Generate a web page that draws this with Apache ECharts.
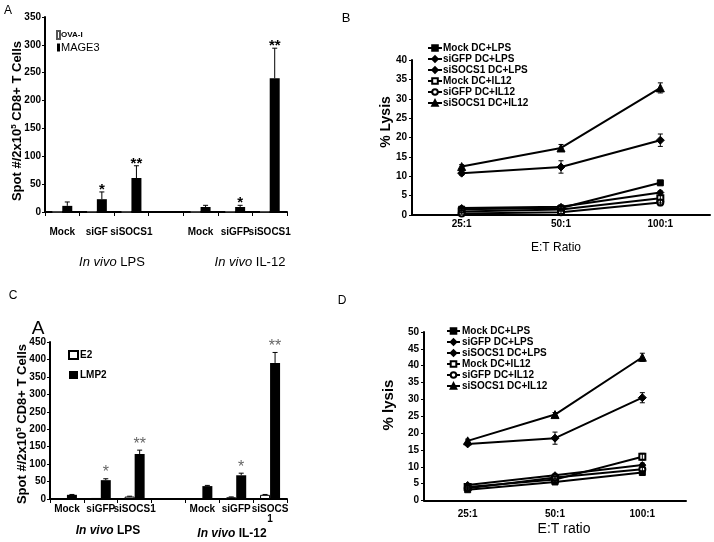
<!DOCTYPE html>
<html><head><meta charset="utf-8">
<script src="https://cdn.jsdelivr.net/npm/echarts@6/dist/echarts.min.js"></script>
<style>html,body{margin:0;padding:0;background:#fff}#c{width:714px;height:542px}</style>
</head><body><div id="c"></div>
<script>
// ---------- Panel A (ELISPOT, OVA-I / MAGE3) ----------
const catsA = ['Mock', 'siGF', 'siSOCS1', '', 'Mock', 'siGFP', 'siSOCS1'];
const ovaA = [0.5, 1, 0.5, null, 0.5, 1, 1];
const mageA = [11, 23, 61, null, 9, 9, 240];
const mageErrA = [7, 13, 22, null, 3, 3, 54];
const sigA = ['', '*', '**', '', '', '*', '**'];

// ---------- Panel B (lysis) ----------
const ratiosB = ['25:1', '50:1', '100:1'];
const namesL = ['Mock DC+LPS', 'siGFP DC+LPS', 'siSOCS1 DC+LPS', 'Mock DC+IL12', 'siGFP DC+IL12', 'siSOCS1 DC+IL12'];
const mockLpsB = [1.5, 1.8, 8.3];
const siGfpLpsB = [1.8, 2.1, 5.8];
const siSocsLpsB = [10.8, 12.4, 19.3];
const mockIl12B = [0.9, 1.4, 4.3];
const siGfpIl12B = [0.4, 0.7, 3.2];
const siSocsIl12B = [12.5, 17.3, 32.8];
const mockLpsErrB = [0.3, 0.3, 0.5];
const siGfpLpsErrB = [0.3, 0.3, 0.4];
const siSocsLpsErrB = [0.5, 1.6, 1.6];
const mockIl12ErrB = [0.3, 0.3, 1.2];
const siGfpIl12ErrB = [0.2, 0.3, 0.8];
const siSocsIl12ErrB = [0.5, 0.9, 1.3];

// ---------- Panel C (ELISPOT, E2 / LMP2) ----------
const catsC = ['Mock', 'siGFP', 'siSOCS1', '', 'Mock', 'siGFP', 'siSOCS\n1'];
const e2C = [0, 3, 7, null, 0, 5, 12];
const e2ErrC = [0, 0, 1, null, 0, 1, 1];
const lmp2C = [12, 54, 129, null, 37, 68, 390];
const lmp2ErrC = [1, 4, 11, null, 2, 6, 30];
const sigC = ['', '*', '**', '', '', '*', '**'];

// ---------- Panel D (lysis) ----------
const ratiosD = ['25:1', '50:1', '100:1'];
const mockLpsD = [3.2, 5.5, 8.3];
const siGfpLpsD = [4.6, 7.5, 10.5];
const siSocsLpsD = [16.8, 18.5, 30.5];
const mockIl12D = [4.0, 6.2, 13.0];
const siGfpIl12D = [3.6, 6.8, 9.3];
const siSocsIl12D = [17.7, 25.5, 42.5];
const mockLpsErrD = [0.3, 0.4, 0.5];
const siGfpLpsErrD = [0.3, 0.4, 0.6];
const siSocsLpsErrD = [0.5, 1.8, 1.5];
const mockIl12ErrD = [0.3, 0.5, 1.0];
const siGfpIl12ErrD = [0.3, 0.4, 0.6];
const siSocsIl12ErrD = [0.5, 0.6, 1.2];

const FF = '"Liberation Sans", Arial, Helvetica, sans-serif';
const chart = echarts.init(document.getElementById('c'), null, {renderer: 'canvas'});

function errSeries(axisIdx, vals, errs, offset, both, sigs, sigStyle, sigGap) {
  const data = vals.map((v, i) => [i, v == null ? 0 : v]);
  return {
    type: 'custom', xAxisIndex: axisIdx, yAxisIndex: axisIdx, z: 6, silent: true,
    encode: {x: 0, y: 1}, clip: false,
    renderItem(params, api) {
      const i = params.dataIndex;
      const v = vals[i], e = errs[i];
      if (v == null) return null;
      const p0 = api.coord([i, v]);
      const pt = api.coord([i, v + e]);
      const pb = api.coord([i, v - e]);
      const x = p0[0] + offset;
      const ch = [];
      if (e > 0) {
        ch.push({type: 'line', shape: {x1: x, y1: both ? pb[1] : p0[1], x2: x, y2: pt[1]}, style: {stroke: '#000', lineWidth: 1}});
        ch.push({type: 'line', shape: {x1: x - 2.5, y1: pt[1], x2: x + 2.5, y2: pt[1]}, style: {stroke: '#000', lineWidth: 1}});
        if (both) ch.push({type: 'line', shape: {x1: x - 2.5, y1: pb[1], x2: x + 2.5, y2: pb[1]}, style: {stroke: '#000', lineWidth: 1}});
      }
      if (sigs && sigs[i]) {
        ch.push({type: 'text', x: x, y: pt[1] - sigGap,
          style: Object.assign({text: sigs[i], align: 'center', verticalAlign: 'middle'}, sigStyle)});
      }
      return {type: 'group', children: ch};
    },
    data
  };
}

function lineSeries(name, axisIdx, data, symbol, size) {
  return {
    name, type: 'line', xAxisIndex: axisIdx, yAxisIndex: axisIdx, data,
    symbol, symbolSize: size, showSymbol: true,
    lineStyle: {color: '#000', width: 2},
    itemStyle: {color: '#000', borderColor: '#000', borderWidth: 1},
    z: 4
  };
}

const catAxisBar = (gi, cats, margin) => ({
  type: 'category', gridIndex: gi, data: cats,
  axisLine: {lineStyle: {color: '#000', width: 2}},
  axisTick: {show: true, interval: 0, length: 4, lineStyle: {color: '#000', width: 1}},
  axisLabel: {interval: 0, margin, color: '#000', fontFamily: FF, fontWeight: 'bold', fontSize: 10, lineHeight: 10}
});
const valAxis = (gi, max, interval, margin) => ({
  type: 'value', gridIndex: gi, min: 0, max, interval,
  splitLine: {show: false},
  axisLine: {show: true, lineStyle: {color: '#000', width: 2}},
  axisTick: {show: true, length: 3, lineStyle: {color: '#000'}},
  axisLabel: {margin, color: '#000', fontFamily: FF, fontWeight: 'bold', fontSize: 10}
});
const catAxisLine = (gi, cats, margin) => ({
  type: 'category', gridIndex: gi, data: cats, boundaryGap: true,
  axisLine: {lineStyle: {color: '#000', width: 2}},
  axisTick: {show: false},
  axisLabel: {margin, color: '#000', fontFamily: FF, fontWeight: 'bold', fontSize: 10}
});

const option = {
  animation: false,
  backgroundColor: '#fff',
  grid: [
    {left: 45, top: 17, width: 242, height: 195, outerBoundsMode: 'none'},
    {left: 412, top: 60, width: 298, height: 155, outerBoundsMode: 'none'},
    {left: 50, top: 342, width: 237, height: 157, outerBoundsMode: 'none'},
    {left: 424, top: 332, width: 262, height: 168.5, outerBoundsMode: 'none'}
  ],
  xAxis: [
    catAxisBar(0, catsA, 15),
    catAxisLine(1, ratiosB, 4),
    catAxisBar(2, catsC, 5),
    catAxisLine(3, ratiosD, 9)
  ],
  yAxis: [
    valAxis(0, 350, 50, 4),
    valAxis(1, 40, 5, 5),
    valAxis(2, 450, 50, 4),
    valAxis(3, 50, 5, 5)
  ],
  legend: [
    {left: 56, top: 30, padding: 0, orient: 'vertical', itemWidth: 3, itemHeight: 8, itemGap: 2, selectedMode: false,
      data: [{name: 'OVA-I', icon: 'rect'}, {name: 'MAGE3', icon: 'rect'}],
      formatter: n => n === 'OVA-I' ? '{s|' + n + '}' : '{b|' + n + '}',
      textStyle: {color: '#000', fontFamily: FF, padding: [0, 0, 0, -4],
        rich: {s: {fontSize: 8, fontWeight: 'bold', fontFamily: FF, color: '#000'},
               b: {fontSize: 11, fontFamily: FF, color: '#000'}}}},
    {left: 427, top: 43, padding: 0, orient: 'vertical', itemWidth: 14, itemHeight: 7, itemGap: 1, selectedMode: false,
      data: namesL,
      textStyle: {color: '#000', fontFamily: FF, fontWeight: 'bold', fontSize: 10, lineHeight: 10, padding: [0, 0, 0, -4]}},
    {left: 68, top: 349, padding: 0, orient: 'vertical', itemWidth: 9, itemHeight: 8, itemGap: 8, selectedMode: false,
      data: [{name: 'E2', icon: 'rect'}, {name: 'LMP2', icon: 'rect'}],
      textStyle: {color: '#000', fontFamily: FF, fontWeight: 'bold', fontSize: 10, lineHeight: 12, padding: [0, 0, 0, -3]}},
    {left: 446, top: 326, padding: 0, orient: 'vertical', itemWidth: 13, itemHeight: 7, itemGap: 1, selectedMode: false,
      data: namesL,
      textStyle: {color: '#000', fontFamily: FF, fontWeight: 'bold', fontSize: 10, lineHeight: 10, padding: [0, 0, 0, -3]}}
  ],
  series: [
    // A
    {name: 'OVA-I', type: 'bar', xAxisIndex: 0, yAxisIndex: 0, data: ovaA, barWidth: 10, barGap: '0%',
      itemStyle: {color: '#fff', borderColor: '#555', borderWidth: 1}},
    {name: 'MAGE3', type: 'bar', xAxisIndex: 0, yAxisIndex: 0, data: mageA, barWidth: 10, barGap: '0%',
      itemStyle: {color: '#000'}},
    errSeries(0, mageA, mageErrA, 5, false, sigA, {fontSize: 15, fontWeight: 'bold', fontFamily: FF, fill: '#000'}, 2),
    // B
    lineSeries('Mock DC+LPS', 1, mockLpsB, 'rect', 6),
    lineSeries('siGFP DC+LPS', 1, siGfpLpsB, 'diamond', 7),
    lineSeries('siSOCS1 DC+LPS', 1, siSocsLpsB, 'diamond', 8),
    lineSeries('Mock DC+IL12', 1, mockIl12B, 'emptyRect', 6),
    lineSeries('siGFP DC+IL12', 1, siGfpIl12B, 'emptyCircle', 6),
    lineSeries('siSOCS1 DC+IL12', 1, siSocsIl12B, 'triangle', 8),
    errSeries(1, mockLpsB, mockLpsErrB, 0, true),
    errSeries(1, siGfpLpsB, siGfpLpsErrB, 0, true),
    errSeries(1, siSocsLpsB, siSocsLpsErrB, 0, true),
    errSeries(1, mockIl12B, mockIl12ErrB, 0, true),
    errSeries(1, siGfpIl12B, siGfpIl12ErrB, 0, true),
    errSeries(1, siSocsIl12B, siSocsIl12ErrB, 0, true),
    // C
    {name: 'E2', type: 'bar', xAxisIndex: 2, yAxisIndex: 2, data: e2C, barWidth: 10, barGap: '0%',
      itemStyle: {color: '#fff', borderColor: '#000', borderWidth: 1}},
    {name: 'LMP2', type: 'bar', xAxisIndex: 2, yAxisIndex: 2, data: lmp2C, barWidth: 10, barGap: '0%',
      itemStyle: {color: '#000'}},
    errSeries(2, e2C, e2ErrC, -5, false),
    errSeries(2, lmp2C, lmp2ErrC, 5, false, sigC, {fontSize: 16, fontFamily: FF, fill: '#666'}, 6),
    // D
    lineSeries('Mock DC+LPS', 3, mockLpsD, 'rect', 6),
    lineSeries('siGFP DC+LPS', 3, siGfpLpsD, 'diamond', 7),
    lineSeries('siSOCS1 DC+LPS', 3, siSocsLpsD, 'diamond', 8),
    lineSeries('Mock DC+IL12', 3, mockIl12D, 'emptyRect', 6),
    lineSeries('siGFP DC+IL12', 3, siGfpIl12D, 'emptyCircle', 6),
    lineSeries('siSOCS1 DC+IL12', 3, siSocsIl12D, 'triangle', 8),
    errSeries(3, mockLpsD, mockLpsErrD, 0, true),
    errSeries(3, siGfpLpsD, siGfpLpsErrD, 0, true),
    errSeries(3, siSocsLpsD, siSocsLpsErrD, 0, true),
    errSeries(3, mockIl12D, mockIl12ErrD, 0, true),
    errSeries(3, siGfpIl12D, siGfpIl12ErrD, 0, true),
    errSeries(3, siSocsIl12D, siSocsIl12ErrD, 0, true)
  ],
  graphic: [
    // panel letters
    {type: 'text', x: 8, y: 11, style: {text: 'A', font: '12px ' + FF, fill: '#000', align: 'center', verticalAlign: 'middle'}},
    {type: 'text', x: 346, y: 18, style: {text: 'B', font: '13px ' + FF, fill: '#000', align: 'center', verticalAlign: 'middle'}},
    {type: 'text', x: 13, y: 296, style: {text: 'C', font: '12px ' + FF, fill: '#000', align: 'center', verticalAlign: 'middle'}},
    {type: 'text', x: 342, y: 301, style: {text: 'D', font: '12px ' + FF, fill: '#000', align: 'center', verticalAlign: 'middle'}},
    {type: 'text', x: 38, y: 329, style: {text: 'A', font: '19px ' + FF, fill: '#000', align: 'center', verticalAlign: 'middle'}},
    // y titles of bar panels
    {type: 'text', x: 17, y: 121, rotation: Math.PI / 2,
      style: {text: 'Spot #/2x10{s|5} CD8+ T Cells', font: 'bold 13px ' + FF, fill: '#000', align: 'center', verticalAlign: 'middle',
        rich: {s: {fontSize: 8, fontWeight: 'bold', fontFamily: FF, verticalAlign: 'top', padding: [0, 0, 6, 0]}}}},
    {type: 'text', x: 22, y: 424, rotation: Math.PI / 2,
      style: {text: 'Spot #/2x10{s|5} CD8+ T Cells', font: 'bold 13px ' + FF, fill: '#000', align: 'center', verticalAlign: 'middle',
        rich: {s: {fontSize: 8, fontWeight: 'bold', fontFamily: FF, verticalAlign: 'top', padding: [0, 0, 6, 0]}}}},
    // group labels
    {type: 'text', x: 112, y: 262, style: {text: '{i|In vivo} LPS', font: '13px ' + FF, fill: '#000', align: 'center', verticalAlign: 'middle',
      rich: {i: {fontStyle: 'italic', fontSize: 13, fontFamily: FF}}}},
    {type: 'text', x: 250, y: 262, style: {text: '{i|In vivo} IL-12', font: '13px ' + FF, fill: '#000', align: 'center', verticalAlign: 'middle',
      rich: {i: {fontStyle: 'italic', fontSize: 13, fontFamily: FF}}}},
    {type: 'text', x: 108, y: 531, style: {text: '{i|In vivo} LPS', font: 'bold 12px ' + FF, fill: '#000', align: 'center', verticalAlign: 'middle',
      rich: {i: {fontStyle: 'italic', fontWeight: 'bold', fontSize: 12, fontFamily: FF}}}},
    {type: 'text', x: 232, y: 534, style: {text: '{i|In vivo} IL-12', font: 'bold 12px ' + FF, fill: '#000', align: 'center', verticalAlign: 'middle',
      rich: {i: {fontStyle: 'italic', fontWeight: 'bold', fontSize: 12, fontFamily: FF}}}},
    // line panel titles
    {type: 'text', x: 386, y: 122, rotation: Math.PI / 2, style: {text: '% Lysis', font: 'bold 14px ' + FF, fill: '#000', align: 'center', verticalAlign: 'middle'}},
    {type: 'text', x: 556, y: 248, style: {text: 'E:T Ratio', font: '12px ' + FF, fill: '#000', align: 'center', verticalAlign: 'middle'}},
    {type: 'text', x: 389, y: 405, rotation: Math.PI / 2, style: {text: '% lysis', font: 'bold 15px ' + FF, fill: '#000', align: 'center', verticalAlign: 'middle'}},
    {type: 'text', x: 564, y: 529, style: {text: 'E:T ratio', font: '14px ' + FF, fill: '#000', align: 'center', verticalAlign: 'middle'}}
  ]
};
chart.setOption(option);
</script>
</body></html>
